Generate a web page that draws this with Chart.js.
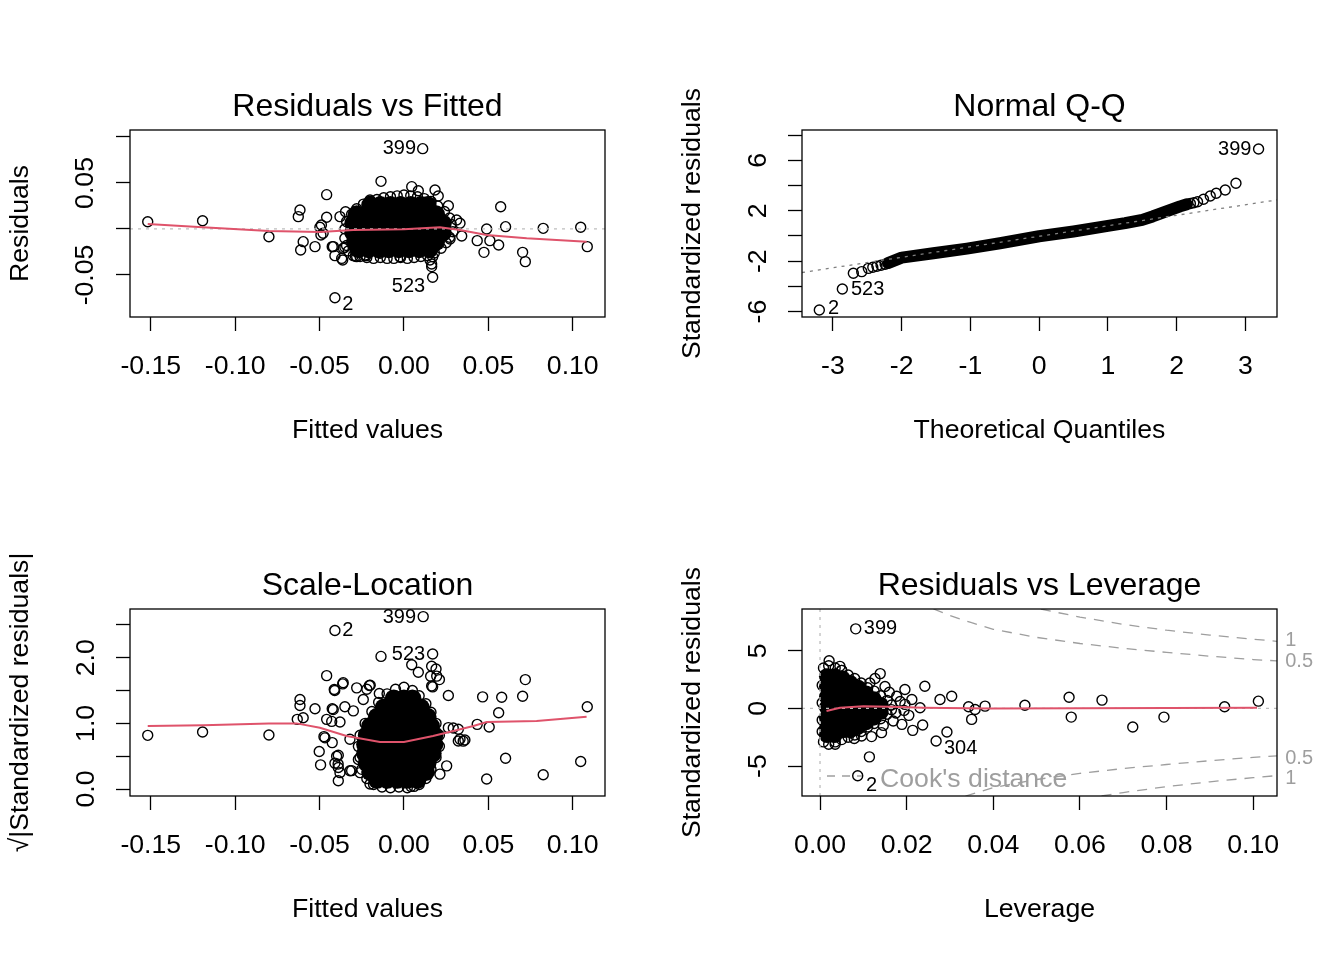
<!DOCTYPE html>
<html>
<head>
<meta charset="utf-8">
<script src="https://cdn.jsdelivr.net/npm/chart.js@4.4.1/dist/chart.umd.min.js"></script>
<style>
    html, body {
        margin: 0;
        padding: 0;
        width: 1344px;
        height: 960px;
        overflow: hidden;
        background: #fff;
    }
    canvas {
        position: absolute;
    }
</style>
</head>
<body>
<canvas id="rf" width="735" height="480" style="left:0px;top:0px"></canvas>
<canvas id="qq" width="735" height="480" style="left:672px;top:0px"></canvas>
<canvas id="sl" width="735" height="480" style="left:0px;top:479px"></canvas>
<canvas id="rl" width="735" height="480" style="left:672px;top:479px"></canvas>
<script>
// ---- Residuals vs Fitted ----
const rfTicksX = [-0.15, -0.10, -0.05, 0, 0.05, 0.10]
const rfLabelsX = ['-0.15', '-0.10', '-0.05', '0.00', '0.05', '0.10']
const rfTicksY = [-0.05, 0, 0.05, 0.10]
const rfLabelsY = ['-0.05', '', '0.05', '']
const rfPoints = [
    [-0.1518, 0.0079], [-0.1193, 0.0090], [-0.0800, -0.0084], [-0.0616, 0.0207], [-0.0626, 0.0134],
    [-0.0458, 0.0373], [-0.0136, 0.0518], [0.0111, 0.0873], [0.0046, 0.0460], [0.0085, 0.0416],
    [0.0184, 0.0424], [0.0203, 0.0359], [0.0263, 0.0253], [-0.0201, 0.0315], [0.0573, 0.0242],
    [0.0602, 0.0025], [0.0490, 0.0000], [0.0825, 0.0007], [0.1047, 0.0018], [0.1086, -0.0192],
    [0.0703, -0.0254], [0.0719, -0.0355], [0.0474, -0.0254], [0.0434, -0.0127], [0.0509, -0.0127],
    [0.0561, -0.0174], [0.0312, 0.0098], [0.0332, 0.0062], [0.0342, -0.0076], [0.0273, -0.0109],
    [0.0170, -0.0301], [0.0164, -0.0380], [0.0170, -0.0525], [-0.0409, -0.0747], [-0.0597, -0.0138],
    [-0.0612, -0.0228], [-0.0527, -0.0192], [-0.0498, 0.0018], [-0.0492, -0.0065], [-0.0458, 0.0127],
    [-0.0425, -0.0192], [-0.0409, -0.0290], [-0.0363, -0.0337], [-0.0280, -0.0301], [-0.0225, -0.0290],
    [-0.0350, -0.0199], [-0.0379, 0.0134], [-0.0346, 0.0188], [-0.0142, -0.0264], [-0.0024, -0.0301],
    [-0.0418, -0.0192], [-0.0369, -0.0320], [-0.0359, -0.0210], [-0.0288, -0.0295], [-0.0229, -0.0283],
    [-0.0489, 0.0043], [-0.0479, -0.0047], [0.0154, -0.0337], [0.0164, -0.0409], [-0.0201, 0.0300],
    // blob outline
    [-0.031, 0.016], [-0.028, 0.022], [-0.024, 0.027], [-0.020, 0.030], [-0.016, 0.032], [-0.012, 0.034],
    [-0.008, 0.035], [-0.004, 0.036], [0.000, 0.037], [0.004, 0.036], [0.008, 0.035], [0.012, 0.033],
    [0.016, 0.030], [0.020, 0.025], [0.024, 0.019], [0.027, 0.012],
    [-0.033, -0.024], [-0.030, -0.029], [-0.026, -0.030], [-0.022, -0.031], [-0.018, -0.032], [-0.014, -0.031],
    [-0.010, -0.032], [-0.006, -0.032], [-0.002, -0.031], [0.002, -0.032], [0.006, -0.031], [0.010, -0.030],
    [0.014, -0.029], [0.018, -0.026], [0.022, -0.021], [0.025, -0.015],
    [-0.034, 0.008], [-0.035, 0.000], [-0.035, -0.010], [-0.034, -0.018],
    [0.028, 0.005], [0.029, -0.003], [0.027, -0.009]
]
const rfCore = [
    [-0.020, 0.026], [-0.014, 0.026], [-0.008, 0.026], [-0.002, 0.026], [0.004, 0.026], [0.010, 0.026], [0.014, 0.026],
    [-0.028, 0.016], [-0.022, 0.016], [-0.016, 0.016], [-0.010, 0.016], [-0.004, 0.016], [0.002, 0.016], [0.008, 0.016], [0.014, 0.016], [0.019, 0.016],
    [-0.030, 0.006], [-0.024, 0.006], [-0.018, 0.006], [-0.012, 0.006], [-0.006, 0.006], [0.000, 0.006], [0.006, 0.006], [0.012, 0.006], [0.018, 0.006], [0.023, 0.006],
    [-0.030, -0.004], [-0.024, -0.004], [-0.018, -0.004], [-0.012, -0.004], [-0.006, -0.004], [0.000, -0.004], [0.006, -0.004], [0.012, -0.004], [0.018, -0.004], [0.023, -0.004],
    [-0.029, -0.014], [-0.023, -0.014], [-0.017, -0.014], [-0.011, -0.014], [-0.005, -0.014], [0.001, -0.014], [0.007, -0.014], [0.013, -0.014], [0.019, -0.014],
    [-0.027, -0.022], [-0.021, -0.022], [-0.015, -0.022], [-0.009, -0.022], [-0.003, -0.022], [0.003, -0.022], [0.009, -0.022], [0.015, -0.022]
]
const rfSmooth = [
    [-0.1518, 0.0054], [-0.1193, 0.0018], [-0.0800, -0.0022], [-0.0498, -0.0033], [-0.0300, -0.0011],
    [0.0000, -0.0004], [0.0213, 0.0018], [0.0332, -0.0011], [0.0490, -0.0065], [0.0727, -0.0101], [0.1082, -0.0138]
]
const rfIds = [[-0.0027, 0.088, '399'], [0.0027, -0.062, '523'], [-0.0332, -0.0826, '2']]

// ---- Normal Q-Q ----
const qqTicksX = [-3, -2, -1, 0, 1, 2, 3]
const qqLabelsX = ['-3', '-2', '-1', '0', '1', '2', '3']
const qqTicksY = [-6, -4, -2, 0, 2, 4, 6, 8]
const qqLabelsY = ['-6', '', '-2', '', '2', '', '6', '']
const qqBand = [
    [-2.20, -2.15], [-2.00, -1.72], [-1.54, -1.37], [-1.05, -1.00], [-0.57, -0.58], [0.00, -0.02],
    [0.50, 0.36], [1.00, 0.80], [1.25, 1.02], [1.50, 1.28], [1.65, 1.55], [1.80, 1.85], [2.05, 2.35], [2.15, 2.52]
]
const qqTail = [
    [-3.198, -5.87], [-2.863, -4.21], [-2.703, -2.96], [-2.581, -2.83], [-2.485, -2.57], [-2.42, -2.48],
    [-2.36, -2.40], [-2.30, -2.32], [-2.24, -2.24],
    [2.20, 2.58], [2.25, 2.64], [2.304, 2.72], [2.391, 2.91], [2.489, 3.17], [2.576, 3.39], [2.707, 3.65],
    [2.863, 4.18], [3.192, 6.90]
]
const qqRef = [[-3.45, -2.90], [3.46, 2.86]]
const qqIds = [[2.846, 6.83, '399'], [-2.496, -4.21, '523'], [-2.991, -5.79, '2']]

// ---- Scale-Location ----
const slTicksY = [0, 0.5, 1, 1.5, 2, 2.5]
const slLabelsY = ['0.0', '', '1.0', '', '2.0', '']
const slPoints = [
    [-0.1518, 0.818], [-0.1193, 0.868], [-0.0800, 0.823], [-0.0616, 1.364], [-0.0616, 1.273], [-0.0632, 1.061],
    [-0.0597, 1.086], [-0.0527, 1.222], [-0.0458, 1.727], [-0.0409, 2.414], [0.0114, 2.626], [-0.0136, 2.020],
    [0.0170, 2.056], [0.0046, 1.894], [0.0085, 1.778], [0.0190, 1.828], [0.0158, 1.717], [0.0210, 1.667],
    [0.0170, 1.556], [0.0263, 1.424], [-0.0413, 1.515], [-0.0363, 1.601], [-0.0280, 1.541], [-0.0205, 1.576],
    [-0.0146, 1.455], [-0.0241, 1.364], [-0.0425, 1.222], [-0.0350, 1.253], [-0.0458, 1.061], [-0.0379, 1.020],
    [-0.0474, 0.798], [-0.0425, 0.707], [-0.0502, 0.571], [-0.0494, 0.368], [-0.0389, 0.515], [-0.0409, 0.394],
    [-0.0389, 0.328], [-0.0389, 0.126], [-0.0320, 0.278], [-0.0320, 0.758], [0.0466, 1.404], [0.0579, 1.399],
    [0.0703, 1.414], [0.0719, 1.667], [0.0561, 1.162], [0.0434, 0.985], [0.0505, 0.944], [0.1086, 1.253],
    [0.1047, 0.420], [0.0825, 0.217], [0.0602, 0.470], [0.0490, 0.152], [0.0361, 0.747], [0.0322, 0.732],
    [0.0263, 0.935], [0.0253, 0.353], [0.0213, 0.227], [0.0041, 0.041], [-0.0201, 0.076],
    [-0.0360, 1.620], [-0.0410, 1.500], [-0.0220, 1.520], [-0.0200, 1.580], [-0.0419, 1.210], [-0.0428, 1.030],
    [-0.0300, 1.190], [-0.0468, 0.780], [-0.0399, 0.500], [-0.0390, 0.380], [-0.0379, 0.250], [-0.0310, 0.280],
    [-0.0260, 0.250], [-0.0270, 0.450], [0.0164, 1.870], [0.0194, 1.720], [0.0164, 1.570], [0.0332, 0.760],
    [0.0351, 0.730], [0.0322, 0.910], [0.0292, 0.930],
    // blob outline
    [-0.010, 1.45], [-0.005, 1.52], [0.000, 1.55], [0.005, 1.50], [0.009, 1.42],
    [-0.015, 1.32], [-0.019, 1.18], [-0.023, 1.00], [-0.026, 0.82], [-0.027, 0.65], [-0.026, 0.48],
    [-0.025, 0.30], [-0.022, 0.16], [-0.018, 0.07],
    [0.013, 1.30], [0.016, 1.17], [0.019, 1.00], [0.021, 0.82], [0.021, 0.65], [0.019, 0.48],
    [0.016, 0.30], [0.013, 0.16], [0.009, 0.07],
    [-0.013, 0.03], [-0.008, 0.02], [-0.003, 0.03], [0.002, 0.02], [0.006, 0.04]
]
const slCore = [
    [-0.006, 1.38], [0.000, 1.38], [0.005, 1.38],
    [-0.012, 1.24], [-0.006, 1.24], [0.000, 1.24], [0.006, 1.24], [0.010, 1.24],
    [-0.016, 1.10], [-0.010, 1.10], [-0.004, 1.10], [0.002, 1.10], [0.008, 1.10], [0.014, 1.10],
    [-0.020, 0.96], [-0.014, 0.96], [-0.008, 0.96], [-0.002, 0.96], [0.004, 0.96], [0.010, 0.96], [0.016, 0.96],
    [-0.022, 0.82], [-0.016, 0.82], [-0.010, 0.82], [-0.004, 0.82], [0.002, 0.82], [0.008, 0.82], [0.014, 0.82], [0.018, 0.82],
    [-0.023, 0.68], [-0.017, 0.68], [-0.011, 0.68], [-0.005, 0.68], [0.001, 0.68], [0.007, 0.68], [0.013, 0.68], [0.018, 0.68],
    [-0.023, 0.54], [-0.017, 0.54], [-0.011, 0.54], [-0.005, 0.54], [0.001, 0.54], [0.007, 0.54], [0.013, 0.54], [0.017, 0.54],
    [-0.022, 0.40], [-0.016, 0.40], [-0.010, 0.40], [-0.004, 0.40], [0.002, 0.40], [0.008, 0.40], [0.014, 0.40],
    [-0.020, 0.26], [-0.014, 0.26], [-0.008, 0.26], [-0.002, 0.26], [0.004, 0.26], [0.010, 0.26], [0.013, 0.26],
    [-0.016, 0.14], [-0.010, 0.14], [-0.004, 0.14], [0.002, 0.14], [0.008, 0.14]
]
const slSmooth = [
    [-0.1518, 0.96], [-0.1189, 0.97], [-0.0800, 1.00], [-0.0636, 1.00], [-0.0498, 0.934], [-0.0340, 0.808],
    [-0.0142, 0.717], [0.0000, 0.717], [0.0172, 0.808], [0.0292, 0.884], [0.0411, 0.96], [0.0490, 1.02],
    [0.0786, 1.035], [0.1082, 1.10]
]
const slIds = [[-0.0027, 2.62, '399'], [-0.0332, 2.41, '2'], [0.0027, 2.045, '523']]

// ---- Residuals vs Leverage ----
const rlTicksX = [0, 0.02, 0.04, 0.06, 0.08, 0.10]
const rlLabelsX = ['0.00', '0.02', '0.04', '0.06', '0.08', '0.10']
const rlTicksY = [-5, 0, 5]
const rlLabelsY = ['-5', '0', '5']
const rlPoints = [
    [0.00824, 6.90], [0.0021, 4.14], [0.0046, 3.65], [0.0050, 3.30], [0.0139, 3.02], [0.0127, 2.59],
    [0.0242, 1.92], [0.0196, 1.64], [0.0277, 0.78], [0.0304, 1.06], [0.0212, 0.78], [0.0231, 0.06],
    [0.0343, 0.15], [0.0381, 0.20], [0.0350, -0.95], [0.0358, -0.09], [0.0473, 0.28], [0.0575, 0.97],
    [0.0580, -0.75], [0.0651, 0.72], [0.0722, -1.61], [0.0794, -0.75], [0.0934, 0.15], [0.1012, 0.63],
    [0.0237, -1.44], [0.0214, -1.90], [0.0189, -1.38], [0.0169, -1.09], [0.0146, -1.47], [0.0142, -2.10],
    [0.0119, -2.44], [0.0096, -2.39], [0.0079, -2.61], [0.0035, -3.10], [0.0293, -2.04], [0.0268, -2.82],
    [0.0114, -4.20], [0.0087, -5.84], [0.0194, -0.17], [0.0177, 1.06], [0.0196, 0.35], [0.0185, 0.60],
    [0.0205, -0.60], [0.0175, -0.40], [0.0160, 1.40], [0.0150, 1.90], [0.0115, 2.20],
    // blob outline
    [0.0008, 3.5], [0.0020, 3.7], [0.0035, 3.5], [0.0050, 3.3], [0.0065, 2.9], [0.0080, 2.6], [0.0095, 2.2],
    [0.0110, 1.8], [0.0125, 1.5], [0.0140, 1.1], [0.0155, 0.7], [0.0165, 0.3],
    [0.0008, -2.9], [0.0020, -3.1], [0.0035, -2.9], [0.0050, -2.7], [0.0065, -2.5], [0.0080, -2.3],
    [0.0095, -2.0], [0.0110, -1.6], [0.0125, -1.3], [0.0140, -0.9], [0.0155, -0.5], [0.0165, -0.1],
    [0.0005, 2.0], [0.0005, 0.5], [0.0005, -1.0], [0.0005, -2.0]
]
const rlCore = [
    [0.0016, 2.8], [0.0016, 1.9], [0.0016, 1.0], [0.0016, 0.1], [0.0016, -0.8], [0.0016, -1.7], [0.0016, -2.3],
    [0.0034, 2.8], [0.0034, 1.9], [0.0034, 1.0], [0.0034, 0.1], [0.0034, -0.8], [0.0034, -1.7], [0.0034, -2.3],
    [0.0052, 2.6], [0.0052, 1.7], [0.0052, 0.8], [0.0052, -0.1], [0.0052, -1.0], [0.0052, -1.9],
    [0.0070, 2.2], [0.0070, 1.3], [0.0070, 0.4], [0.0070, -0.5], [0.0070, -1.4], [0.0070, -1.9],
    [0.0088, 1.8], [0.0088, 0.9], [0.0088, 0.0], [0.0088, -0.9], [0.0088, -1.6],
    [0.0106, 1.3], [0.0106, 0.4], [0.0106, -0.5], [0.0106, -1.2],
    [0.0124, 0.8], [0.0124, 0.0], [0.0124, -0.8],
    [0.0140, 0.3], [0.0140, -0.3]
]
const rlSmooth = [[0.0015, -0.23], [0.0046, 0.06], [0.0100, 0.20], [0.0162, 0.15], [0.0239, 0.06], [0.0393, 0.00], [0.1009, 0.06]]
const cookUpper1 = [[0.051, 8.62], [0.055, 8.30], [0.060, 7.92], [0.070, 7.29], [0.080, 6.78], [0.090, 6.36], [0.100, 6.00], [0.1055, 5.82]]
const cookUpperHalf = [[0.0262, 8.62], [0.030, 8.05], [0.035, 7.43], [0.040, 6.86], [0.050, 6.16], [0.060, 5.63], [0.070, 5.21], [0.080, 4.86], [0.090, 4.53], [0.100, 4.24], [0.1055, 4.12]]
const cookLowerHalf = [[0.0336, -7.59], [0.040, -6.86], [0.050, -6.16], [0.060, -5.63], [0.070, -5.21], [0.080, -4.86], [0.090, -4.53], [0.100, -4.24], [0.1055, -4.12]]
const cookLower1 = [[0.065, -7.59], [0.070, -7.29], [0.080, -6.78], [0.090, -6.36], [0.100, -6.00], [0.1055, -5.82]]
const cookLabels = [[0.1074, 5.86, '1'], [0.1074, 4.05, '0.5'], [0.1074, -4.31, '0.5'], [0.1074, -6.03, '1']]
const rlIds = [[0.01397, 6.90, '399'], [0.03245, -3.45, '304'], [0.0119, -6.64, '2']]

const FONT = "'Liberation Sans', Arial, sans-serif"
const RED = '#DF536B'
const GRAY = '#BEBEBE'
const COOK = '#9E9E9E'
Chart.defaults.font.family = FONT
Chart.defaults.color = '#000'

function ring(data) {
    return { data: data, showLine: false, pointRadius: 5, pointBorderWidth: 1.4, borderColor: '#000', pointBorderColor: '#000', pointBackgroundColor: 'rgba(0,0,0,0)' }
}
function core(data, r) {
    return { data: data, showLine: false, pointRadius: r, pointBorderWidth: 0, borderColor: '#000', pointBackgroundColor: '#000' }
}
function line(data, color, width, dash) {
    return { data: data, showLine: true, borderColor: color, borderWidth: width, borderDash: dash || [], pointRadius: 0, tension: 0, fill: false }
}

// box round the plot region
const boxPlugin = {
    id: 'box',
    afterDatasetsDraw(chart) {
        let a = chart.chartArea
        let ctx = chart.ctx
        ctx.save()
        ctx.strokeStyle = '#000'
        ctx.lineWidth = 1.3
        ctx.strokeRect(a.left, a.top, a.right - a.left, a.bottom - a.top)
        ctx.restore()
    }
}

// text marks placed at data coordinates
function textMarks(groups) {
    return {
        id: 'textMarks',
        afterDraw(chart) {
            let ctx = chart.ctx
            let xs = chart.scales.x
            let ys = chart.scales.y
            groups.forEach(g => {
                ctx.save()
                ctx.fillStyle = g.color
                ctx.font = g.size + 'px ' + FONT
                ctx.textAlign = g.align
                ctx.textBaseline = 'middle'
                g.items.forEach(it => {
                    ctx.fillText(it[2], xs.getPixelForValue(it[0]), ys.getPixelForValue(it[1]))
                })
                ctx.restore()
            })
        }
    }
}

const cookLegend = {
    id: 'cookLegend',
    afterDraw(chart) {
        let a = chart.chartArea
        let ctx = chart.ctx
        ctx.save()
        ctx.strokeStyle = COOK
        ctx.lineWidth = 1.3
        ctx.setLineDash([8, 7])
        ctx.beginPath()
        ctx.moveTo(a.left + 25, a.bottom - 20)
        ctx.lineTo(a.left + 60, a.bottom - 20)
        ctx.stroke()
        ctx.fillStyle = COOK
        ctx.font = '26.67px ' + FONT
        ctx.textBaseline = 'middle'
        ctx.fillText("Cook's distance", a.left + 78, a.bottom - 16)
        ctx.restore()
    }
}

function panel(id, p) {
    return new Chart(document.getElementById(id), {
        type: 'scatter',
        data: { datasets: p.datasets },
        options: {
            responsive: false,
            animation: false,
            events: [],
            layout: { padding: { top: 87.6, left: 0, right: 0, bottom: 0 } },
            plugins: {
                legend: { display: false },
                tooltip: { enabled: false },
                title: {
                    display: true,
                    text: p.title,
                    color: '#000',
                    font: { size: 32, weight: 'normal' },
                    padding: { top: 0, bottom: 4 }
                }
            },
            scales: {
                x: {
                    type: 'linear',
                    position: 'bottom',
                    min: p.xMin,
                    max: p.xMax,
                    afterFit: s => { s.height = 163 },
                    afterBuildTicks: s => { s.ticks = p.xTicks.map(v => ({ value: v })) },
                    grid: { drawOnChartArea: false, drawTicks: true, tickLength: 14, tickColor: '#000', tickWidth: 1.3 },
                    border: { display: false },
                    ticks: {
                        autoSkip: false, minRotation: 0, maxRotation: 0, color: '#000',
                        font: { size: 26.67 }, padding: 20,
                        callback: (v, i) => p.xLabels[i]
                    },
                    title: { display: true, text: p.xTitle, color: '#000', font: { size: 26.67 }, padding: { top: 0, bottom: 33 } }
                },
                y: {
                    type: 'linear',
                    position: 'left',
                    min: p.yMin,
                    max: p.yMax,
                    afterFit: s => { s.width = 130 },
                    afterBuildTicks: s => { s.ticks = p.yTicks.map(v => ({ value: v })) },
                    grid: { drawOnChartArea: false, drawTicks: true, tickLength: 14, tickColor: '#000', tickWidth: 1.3 },
                    border: { display: false },
                    ticks: {
                        autoSkip: false, minRotation: 90, maxRotation: 90, crossAlign: 'center', color: '#000',
                        font: { size: 26.67 }, padding: p.yPad,
                        callback: (v, i) => p.yLabels[i]
                    },
                    title: { display: true, text: p.yTitle, color: '#000', font: { size: 26.67 }, padding: { top: 5, bottom: 0 } }
                },
                r: {
                    type: 'linear',
                    position: 'right',
                    display: true,
                    afterFit: s => { s.width = 130 },
                    grid: { display: false },
                    ticks: { display: false },
                    border: { display: false }
                }
            }
        },
        plugins: [boxPlugin, textMarks(p.marks)].concat(p.extra || [])
    })
}

panel('rf', {
    title: 'Residuals vs Fitted', xTitle: 'Fitted values', yTitle: 'Residuals',
    xMin: -0.1623, xMax: 0.1191, yMin: -0.0957, yMax: 0.1076,
    xTicks: rfTicksX, xLabels: rfLabelsX, yTicks: rfTicksY, yLabels: rfLabelsY, yPad: 0,
    datasets: [
        line(rfSmooth, RED, 2),
        line([[-0.1623, 0], [0.1191, 0]], GRAY, 1.3, [3, 5]),
        ring(rfPoints),
        core(rfCore, 9)
    ],
    marks: [{ items: rfIds, color: '#000', size: 20, align: 'center' }]
})

panel('qq', {
    title: 'Normal Q-Q', xTitle: 'Theoretical Quantiles', yTitle: 'Standardized residuals',
    xMin: -3.45, xMax: 3.46, yMin: -6.43, yMax: 8.41,
    xTicks: qqTicksX, xLabels: qqLabelsX, yTicks: qqTicksY, yLabels: qqLabelsY, yPad: 18,
    datasets: [
        line(qqRef, '#7F7F7F', 1.3, [3, 5]),
        ring(qqTail),
        Object.assign(line(qqBand, '#000', 12), { borderCapStyle: 'round', borderJoinStyle: 'round' })
    ],
    marks: [{ items: qqIds, color: '#000', size: 20, align: 'center' }]
})

panel('sl', {
    title: 'Scale-Location', xTitle: 'Fitted values', yTitle: '\u221A|Standardized residuals|',
    xMin: -0.1623, xMax: 0.1191, yMin: -0.106, yMax: 2.742,
    xTicks: rfTicksX, xLabels: rfLabelsX, yTicks: slTicksY, yLabels: slLabelsY, yPad: 11,
    datasets: [
        line(slSmooth, RED, 2),
        ring(slPoints),
        core(slCore, 9)
    ],
    marks: [{ items: slIds, color: '#000', size: 20, align: 'center' }]
})

panel('rl', {
    title: 'Residuals vs Leverage', xTitle: 'Leverage', yTitle: 'Standardized residuals',
    xMin: -0.00416, xMax: 0.1055, yMin: -7.59, yMax: 8.62,
    xTicks: rlTicksX, xLabels: rlLabelsX, yTicks: rlTicksY, yLabels: rlLabelsY, yPad: 18,
    datasets: [
        line(rlSmooth, RED, 2),
        line([[-0.00416, 0], [0.1055, 0]], GRAY, 1.3, [3, 5]),
        line([[0, -7.59], [0, 8.62]], GRAY, 1.3, [3, 5]),
        line(cookUpper1, COOK, 1.3, [10, 8]),
        line(cookUpperHalf, COOK, 1.3, [10, 8]),
        line(cookLowerHalf, COOK, 1.3, [10, 8]),
        line(cookLower1, COOK, 1.3, [10, 8]),
        ring(rlPoints),
        core(rlCore, 8)
    ],
    marks: [
        { items: rlIds, color: '#000', size: 20, align: 'center' },
        { items: cookLabels, color: COOK, size: 20, align: 'left' }
    ],
    extra: [cookLegend]
})
</script>
</body>
</html>
